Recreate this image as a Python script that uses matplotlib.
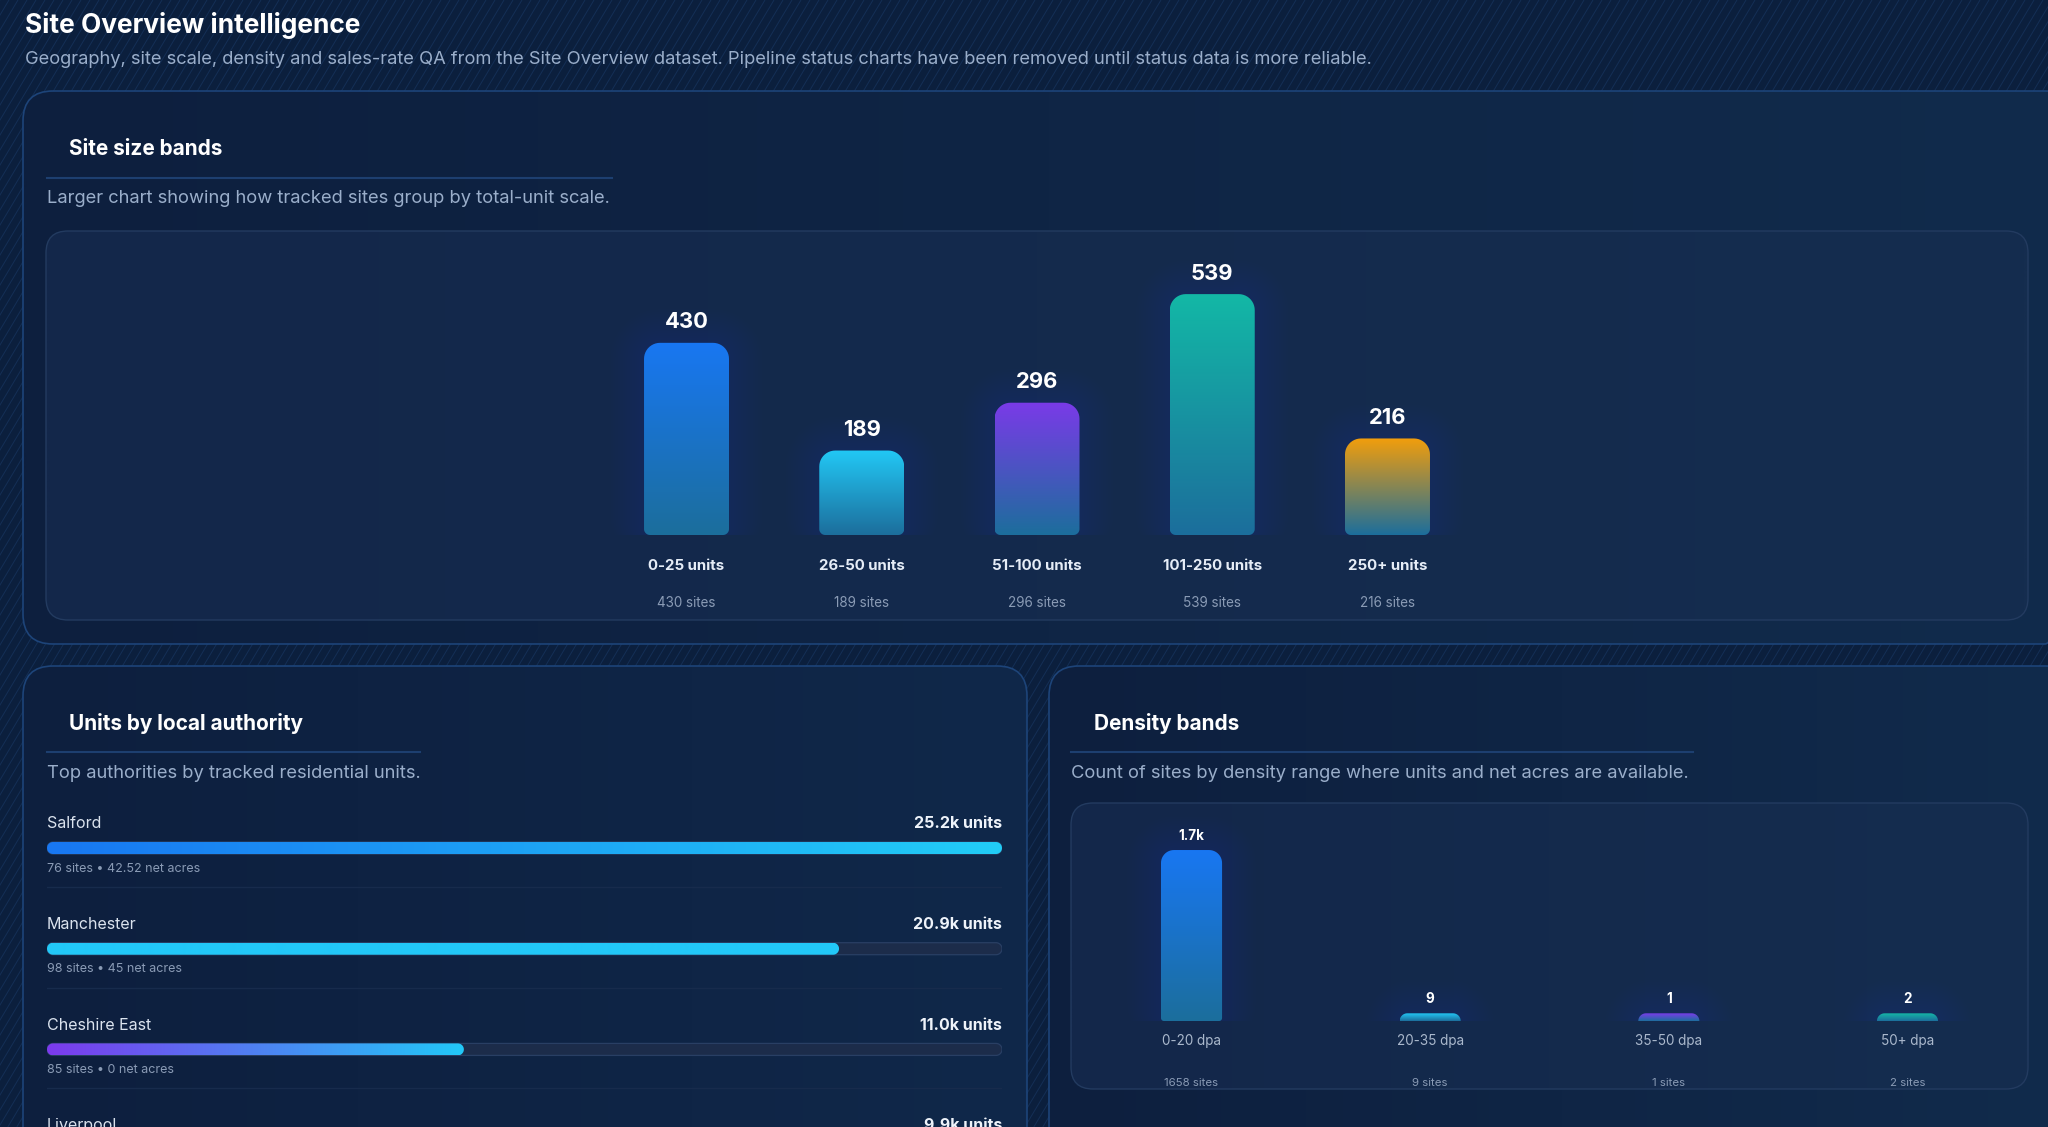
import numpy as np
import matplotlib
matplotlib.use("Agg")
import matplotlib.pyplot as plt
from matplotlib.path import Path
from matplotlib.patches import PathPatch, FancyBboxPatch
from matplotlib.collections import LineCollection
from matplotlib.colors import to_rgb

plt.rcParams['font.family'] = ['Inter', 'DejaVu Sans']

W, H = 2048, 1127
DPI = 100

# --- data ---
size_bands = ["0-25 units", "26-50 units", "51-100 units", "101-250 units", "250+ units"]
size_counts = [430, 189, 296, 539, 216]
size_colors = ["#1877f2", "#22c8f5", "#7a3ae8", "#13b8a6", "#f29e0c"]

authorities = ["Salford", "Manchester", "Cheshire East", "Liverpool"]
auth_units = [25200, 20900, 11000, 9900]
auth_sites = [76, 98, 85, None]
auth_acres = [42.52, 45, 0, None]
auth_colors = [("#1877f2", "#22cdf7"), ("#22c8f8", "#22c8f8"),
               ("#7c3aed", "#22c8f8"), ("#1877f2", "#22cdf7")]

density_bands = ["0-20 dpa", "20-35 dpa", "35-50 dpa", "50+ dpa"]
density_counts = [1658, 9, 1, 2]
density_colors = ["#1877f2", "#22c8f5", "#7c3aed", "#14b8a6"]

BAR_BOTTOM = "#1c6e9c"
TXT = "#eef3fa"
MUTED = "#9aaeca"
DIM = "#8a9bb5"
DY = 2.6  # text baseline nudge (px)


def px(v):
    # pixels -> points
    return v * 72 / DPI


fig = plt.figure(figsize=(W / DPI, H / DPI), dpi=DPI, facecolor="#0b1f3d")


def fig_axes(x0, y0, x1, y1, z=1):
    ax = fig.add_axes([x0 / W, 1 - y1 / H, (x1 - x0) / W, (y1 - y0) / H], zorder=z)
    ax.axis('off')
    return ax


def scale(ax):
    x0, x1 = ax.get_xlim()
    y0, y1 = ax.get_ylim()
    return abs(x1 - x0) / ax.bbox.width, abs(y1 - y0) / ax.bbox.height


def round_rect(x0, x1, y0, y1, r_top, r_bot, sx, sy, n=12):
    w_px = (x1 - x0) / sx
    h_px = (y1 - y0) / sy
    r_top = min(r_top, w_px / 2, h_px)
    r_bot = min(r_bot, w_px / 2, max(h_px - r_top, 0))
    pts = []

    def arc(cx, cy, r, a0, a1):
        t = np.linspace(a0, a1, n)
        return list(zip(cx + r * sx * np.cos(t), cy + r * sy * np.sin(t)))
    pts += arc(x1 - r_bot * sx, y0 + r_bot * sy, r_bot, -np.pi / 2, 0)
    pts += arc(x1 - r_top * sx, y1 - r_top * sy, r_top, 0, np.pi / 2)
    pts += arc(x0 + r_top * sx, y1 - r_top * sy, r_top, np.pi / 2, np.pi)
    pts += arc(x0 + r_bot * sx, y0 + r_bot * sy, r_bot, np.pi, 1.5 * np.pi)
    pts.append(pts[0])
    return Path(pts, closed=True)


def grad_fill(ax, clip, extent, c0, c1, vertical=True, z=3):
    t = np.linspace(0, 1, 256)
    a, b = np.array(to_rgb(c0)), np.array(to_rgb(c1))
    cols = a[None, :] * (1 - t[:, None]) + b[None, :] * t[:, None]
    img = cols[:, None, :] if vertical else cols[None, :, :]
    im = ax.imshow(img, extent=extent, origin='lower', aspect='auto',
                   zorder=z, interpolation='bilinear', interpolation_stage='rgba')
    im.set_clip_path(clip)


# ---------------- background + cards (pixel axes) ----------------
bg = fig.add_axes([0, 0, 1, 1], zorder=0)
bg.set_xlim(0, W)
bg.set_ylim(H, 0)
bg.axis('off')

k = 0.6
xs = np.arange(-H * k, W + 10, 9)
segs = [[(x, H), (x + H * k, 0)] for x in xs]
bg.add_collection(LineCollection(segs, colors="#16335c", linewidths=0.7, alpha=0.8, zorder=0))


def card(x0, y0, x1, y1, r, c0, c1, edge, lw=1.2):
    p = FancyBboxPatch((x0, y0), x1 - x0, y1 - y0,
                       boxstyle=f"round,pad=0,rounding_size={r}",
                       facecolor='none', edgecolor=edge, linewidth=lw, zorder=2)
    bg.add_patch(p)
    clip = FancyBboxPatch((x0, y0), x1 - x0, y1 - y0,
                          boxstyle=f"round,pad=0,rounding_size={r}",
                          facecolor=c0, edgecolor='none', zorder=1)
    bg.add_patch(clip)
    t = np.linspace(0, 1, 256)
    a, b = np.array(to_rgb(c0)), np.array(to_rgb(c1))
    cols = a[None, :] * (1 - t[:, None]) + b[None, :] * t[:, None]
    im = bg.imshow(cols[None, :, :], extent=(x0, x1, y1, y0), aspect='auto', zorder=1,
                   interpolation='bilinear', interpolation_stage='rgba')
    im.set_clip_path(clip)


card(23, 91, 2075, 644, 30, "#0d1f3e", "#112b4c", "#1d4479")
card(46, 231, 2028, 620, 22, "#13274a", "#152d4f", "#233b60", 1.0)
card(23, 666, 1027, 1180, 30, "#0d1f3e", "#10284a", "#1d4479")
card(1049, 666, 2075, 1180, 30, "#0d1f3e", "#112b4c", "#1d4479")
card(1071, 803, 2028, 1089, 22, "#13274a", "#152d4f", "#233b60", 1.0)
bg.set_xlim(0, W)
bg.set_ylim(H, 0)

bg.text(25, 23 + DY, "Site Overview intelligence", fontsize=px(26.3), fontweight='bold',
        color="white", va='center', ha='left', zorder=5)
bg.text(25, 57 + DY, "Geography, site scale, density and sales-rate QA from the Site Overview dataset. "
        "Pipeline status charts have been removed until status data is more reliable.",
        fontsize=px(18.35), color=MUTED, va='center', ha='left', zorder=5)

headers = [(69, 146, 47, 612, 178, 196, "Site size bands",
            "Larger chart showing how tracked sites group by total-unit scale."),
           (69, 721, 47, 420, 752, 771, "Units by local authority",
            "Top authorities by tracked residential units."),
           (1094, 721, 1071, 1693, 752, 771, "Density bands",
            "Count of sites by density range where units and net acres are available.")]
for tx, ty, lx0, lx1, ly, sy_, title, sub in headers:
    bg.text(tx, ty + DY, title, fontsize=px(20.8), fontweight='bold', color="white",
            va='center', ha='left', zorder=5)
    bg.plot([lx0, lx1], [ly, ly], color="#1d3f70", lw=1.5, zorder=5)
    bg.text(lx0, sy_ + DY, sub, fontsize=px(18.4), color=MUTED, va='center', ha='left', zorder=5)


def vbars(ax, counts, colors, width, r_top, r_bot, min_frac, glow):
    sx, sy = scale(ax)
    hmax = max(counts)
    for i, (v, c) in enumerate(zip(counts, colors)):
        h = max(v, hmax * min_frac)
        x0, x1 = i - width / 2, i + width / 2
        if glow:
            for e in range(1, 15):
                d = e * 2.4
                g = round_rect(x0 - d * sx, x1 + d * sx, -d * 0.6 * sy, h + d * sy,
                               r_top + d, r_bot + d, sx, sy)
                ax.add_patch(PathPatch(g, facecolor="#1f56b8", edgecolor='none',
                                       alpha=0.014, zorder=1))
        path = round_rect(x0, x1, 0, h, r_top, r_bot, sx, sy)
        clip = PathPatch(path, facecolor='none', edgecolor='none')
        ax.add_patch(clip)
        grad_fill(ax, clip, (x0, x1, 0, h), BAR_BOTTOM, c)
        yield i, h


# ---------------- site size bands ----------------
ax1 = fig_axes(46, 231, 2028, 535, z=3)
n1 = len(size_counts)
ax1.set_xlim((n1 - 1) / 2 - 5.655, (n1 - 1) / 2 + 5.655)
ax1.set_ylim(0, max(size_counts) * 1.262)
for i, h in vbars(ax1, size_counts, size_colors, 0.485, 16, 6, 0, True):
    ax1.annotate(str(size_counts[i]), (i, h), xytext=(0, px(23 - DY)), textcoords='offset points',
                 ha='center', va='center', fontsize=px(22), fontweight='bold', color="white",
                 annotation_clip=False, zorder=6)
    ax1.annotate(size_bands[i], (i, 0), xytext=(0, -px(28 + DY)), textcoords='offset points',
                 ha='center', va='center', fontsize=px(15), fontweight='bold', color="#e6edf7",
                 annotation_clip=False)
    ax1.annotate(f"{size_counts[i]} sites", (i, 0), xytext=(0, -px(65 + DY)),
                 textcoords='offset points', ha='center', va='center', fontsize=px(13.5),
                 color=DIM, annotation_clip=False)
ax1.set_xlim((n1 - 1) / 2 - 5.655, (n1 - 1) / 2 + 5.655)
ax1.set_ylim(0, max(size_counts) * 1.262)

# ---------------- density bands ----------------
ax2 = fig_axes(1071, 803, 2028, 1021, z=3)
n2 = len(density_counts)
ax2.set_xlim((n2 - 1) / 2 - 2.005, (n2 - 1) / 2 + 2.005)
ax2.set_ylim(0, max(density_counts) * 1.275)
for i, h in vbars(ax2, density_counts, density_colors, 0.256, 13, 3, 0.045, True):
    v = density_counts[i]
    lab = f"{v / 1000:.1f}k" if v >= 1000 else str(v)
    ax2.annotate(lab, (i, h), xytext=(0, px(17 - DY)), textcoords='offset points',
                 ha='center', va='center', fontsize=px(13.5), fontweight='bold', color="white",
                 annotation_clip=False, zorder=6)
    ax2.annotate(density_bands[i], (i, 0), xytext=(0, -px(17 + DY)), textcoords='offset points',
                 ha='center', va='center', fontsize=px(13.5), color="#aab8cc",
                 annotation_clip=False)
    ax2.annotate(f"{v} sites", (i, 0), xytext=(0, -px(59 + DY)), textcoords='offset points',
                 ha='center', va='center', fontsize=px(11.5), color=DIM, annotation_clip=False)
ax2.set_xlim((n2 - 1) / 2 - 2.005, (n2 - 1) / 2 + 2.005)
ax2.set_ylim(0, max(density_counts) * 1.275)

# ---------------- units by local authority ----------------
ax3 = fig_axes(47, 790, 1002, 1190, z=3)
umax = max(auth_units)
ylim3 = (3.396, -0.576)
ax3.set_xlim(0, umax)
ax3.set_ylim(*ylim3)
sx3, sy3 = scale(ax3)
bh = 12 * sy3
for i, name in enumerate(authorities):
    track = round_rect(0, umax, i - bh / 2, i + bh / 2, 6, 6, sx3, sy3)
    ax3.add_patch(PathPatch(track, facecolor="#1c2c4a", edgecolor="#293f64", lw=0.9, zorder=2))
    fill = round_rect(0, auth_units[i], i - bh / 2, i + bh / 2, 6, 6, sx3, sy3)
    clip = PathPatch(fill, facecolor='none', edgecolor='none')
    ax3.add_patch(clip)
    c0, c1 = auth_colors[i]
    grad_fill(ax3, clip, (0, auth_units[i], i - bh / 2, i + bh / 2), c0, c1, vertical=False)
    ax3.annotate(name, (0, i), xytext=(0, px(27 - DY)), textcoords='offset points',
                 ha='left', va='center', fontsize=px(16), color="#dbe3ee", annotation_clip=False)
    ax3.annotate(f"{auth_units[i] / 1000:.1f}k units", (umax, i), xytext=(0, px(27 - DY)),
                 textcoords='offset points', ha='right', va='center', fontsize=px(16),
                 fontweight='bold', color=TXT, annotation_clip=False)
    if auth_sites[i] is not None:
        ax3.annotate(f"{auth_sites[i]} sites \u2022 {auth_acres[i]:g} net acres", (0, i),
                     xytext=(0, -px(18 + DY)), textcoords='offset points', ha='left', va='center',
                     fontsize=px(12.5), color=DIM, annotation_clip=False)
        sep = i + 39 * sy3
        ax3.plot([0, umax], [sep, sep], color="#172b4c", lw=1, zorder=1)
ax3.set_xlim(0, umax)
ax3.set_ylim(*ylim3)

fig.savefig("out.png", dpi=DPI, facecolor=fig.get_facecolor())
